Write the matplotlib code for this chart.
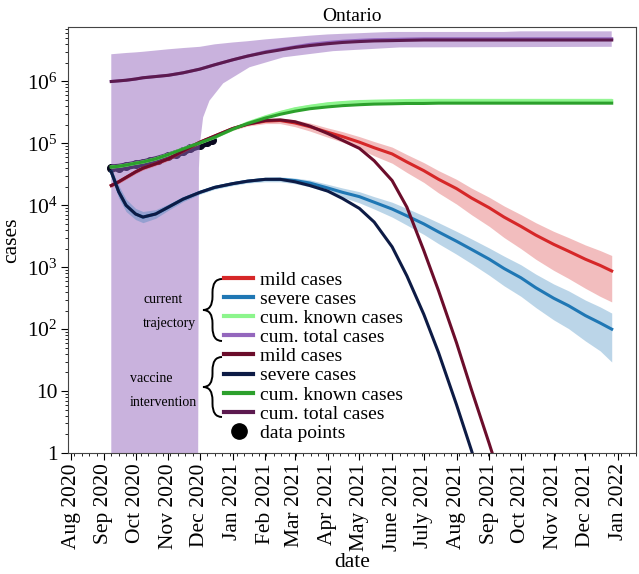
import numpy as np
import pandas as pd
import matplotlib
matplotlib.use('Agg')
import matplotlib.pyplot as plt
import matplotlib.dates as mdates
from matplotlib.path import Path
from matplotlib.patches import PathPatch
from matplotlib.lines import Line2D

plt.rcParams['font.family'] = 'Liberation Serif'
plt.rcParams['mathtext.fontset'] = 'custom'
plt.rcParams['mathtext.rm'] = 'Liberation Serif'
plt.rcParams['mathtext.it'] = 'Liberation Serif:italic'

# model dates shared by most curves
dates = pd.to_datetime([
    '2020-09-08', '2020-09-15', '2020-09-22', '2020-10-01', '2020-10-08', '2020-10-20',
    '2020-11-01', '2020-11-15', '2020-12-01', '2020-12-15', '2021-01-01', '2021-01-15',
    '2021-02-01', '2021-02-15', '2021-03-01', '2021-03-15', '2021-04-01', '2021-04-15',
    '2021-05-01', '2021-05-15', '2021-06-01', '2021-06-15', '2021-07-01', '2021-07-15',
    '2021-08-01', '2021-08-15', '2021-09-01', '2021-09-15', '2021-10-01', '2021-10-15',
    '2021-11-01', '2021-11-15', '2021-12-01', '2021-12-15', '2021-12-26'])

# all values below are log10(cases)
# current trajectory
mild_now = [4.32, 4.38, 4.45, 4.54, 4.60, 4.67, 4.75, 4.88, 5.02, 5.12, 5.24, 5.31,
            5.36, 5.37, 5.33, 5.27, 5.18, 5.11, 5.02, 4.93, 4.83, 4.70, 4.56, 4.42,
            4.27, 4.12, 3.96, 3.81, 3.66, 3.52, 3.37, 3.26, 3.13, 3.03, 2.94]
mild_now_hi = [4.35, 4.41, 4.48, 4.57, 4.63, 4.70, 4.78, 4.91, 5.05, 5.15, 5.27, 5.34,
               5.40, 5.41, 5.38, 5.33, 5.25, 5.19, 5.11, 5.03, 4.94, 4.82, 4.69, 4.56,
               4.42, 4.28, 4.13, 3.99, 3.85, 3.72, 3.58, 3.48, 3.36, 3.27, 3.19]
mild_now_lo = [4.29, 4.35, 4.42, 4.51, 4.57, 4.64, 4.72, 4.85, 4.99, 5.09, 5.21, 5.28,
               5.32, 5.32, 5.27, 5.20, 5.10, 5.02, 4.91, 4.80, 4.68, 4.53, 4.37, 4.20,
               4.02, 3.85, 3.66, 3.48, 3.30, 3.13, 2.95, 2.82, 2.66, 2.53, 2.44]

severe_now = [4.54, 4.22, 4.00, 3.86, 3.81, 3.86, 3.97, 4.10, 4.21, 4.29, 4.35, 4.39,
              4.42, 4.42, 4.40, 4.36, 4.28, 4.21, 4.14, 4.05, 3.94, 3.83, 3.70, 3.57,
              3.42, 3.29, 3.13, 2.98, 2.83, 2.67, 2.50, 2.38, 2.22, 2.10, 2.00]
severe_now_hi = [4.60, 4.32, 4.10, 3.95, 3.90, 3.93, 4.02, 4.14, 4.24, 4.32, 4.38, 4.42,
                 4.45, 4.46, 4.44, 4.41, 4.34, 4.28, 4.22, 4.14, 4.05, 3.95, 3.83, 3.72,
                 3.58, 3.46, 3.31, 3.18, 3.04, 2.89, 2.73, 2.62, 2.47, 2.36, 2.26]
severe_now_lo = [4.48, 4.12, 3.90, 3.77, 3.72, 3.79, 3.92, 4.06, 4.18, 4.26, 4.32, 4.36,
                 4.38, 4.38, 4.35, 4.30, 4.21, 4.13, 4.04, 3.94, 3.81, 3.68, 3.53, 3.38,
                 3.21, 3.06, 2.87, 2.70, 2.53, 2.35, 2.15, 2.01, 1.81, 1.65, 1.47]

known_now = [4.62, 4.63, 4.65, 4.68, 4.70, 4.75, 4.82, 4.91, 5.01, 5.10, 5.23, 5.33,
             5.43, 5.50, 5.56, 5.60, 5.64, 5.66, 5.675, 5.68, 5.685, 5.69, 5.69, 5.69,
             5.69, 5.69, 5.69, 5.69, 5.69, 5.69, 5.69, 5.69, 5.69, 5.69, 5.69]
known_now_hi = [4.64, 4.65, 4.67, 4.70, 4.72, 4.77, 4.84, 4.93, 5.03, 5.12, 5.25, 5.35,
                5.45, 5.53, 5.59, 5.63, 5.67, 5.69, 5.71, 5.715, 5.72, 5.725, 5.73, 5.73,
                5.73, 5.73, 5.73, 5.73, 5.73, 5.73, 5.73, 5.73, 5.73, 5.73, 5.73]
known_now_lo = [4.60, 4.61, 4.63, 4.66, 4.68, 4.73, 4.80, 4.89, 4.99, 5.08, 5.21, 5.31,
                5.41, 5.47, 5.53, 5.57, 5.61, 5.63, 5.64, 5.645, 5.65, 5.655, 5.655, 5.655,
                5.655, 5.655, 5.655, 5.655, 5.655, 5.655, 5.655, 5.655, 5.655, 5.655, 5.655]

total_now = [6.00, 6.01, 6.02, 6.04, 6.06, 6.08, 6.10, 6.14, 6.20, 6.27, 6.35, 6.41,
             6.48, 6.52, 6.56, 6.60, 6.63, 6.65, 6.665, 6.675, 6.68, 6.685, 6.69, 6.69,
             6.69, 6.69, 6.69, 6.69, 6.69, 6.69, 6.69, 6.69, 6.69, 6.69, 6.69]
total_now_hi = [6.44, 6.45, 6.46, 6.47, 6.48, 6.50, 6.52, 6.54, 6.56, 6.60, 6.63, 6.65,
                6.68, 6.70, 6.72, 6.74, 6.76, 6.77, 6.78, 6.79, 6.80, 6.80, 6.80, 6.80,
                6.80, 6.80, 6.80, 6.80, 6.81, 6.81, 6.81, 6.81, 6.81, 6.81, 6.81]
# lower edge of the cumulative-total band has its own dates (drops below 1 before Nov 30)
total_lo_dates = pd.to_datetime([
    '2020-09-08', '2020-11-29', '2020-11-30', '2020-12-01', '2020-12-04', '2020-12-10',
    '2020-12-23', '2021-01-17', '2021-02-18', '2021-04-06', '2021-06-08', '2021-12-26'])
total_now_lo = [-2.0, -2.0, 4.6, 5.0, 5.42, 5.69, 5.97, 6.23, 6.39, 6.49, 6.55, 6.56]

# vaccine intervention
mild_vac = [4.32, 4.38, 4.45, 4.54, 4.60, 4.67, 4.75, 4.88, 5.02, 5.12, 5.24, 5.31,
            5.37, 5.38, 5.35, 5.28, 5.16, 5.05, 4.92, 4.72, 4.40, 3.97, 3.27, 2.62,
            1.78, 1.03, 0.15, -0.60]
severe_vac = [4.54, 4.22, 4.00, 3.86, 3.81, 3.86, 3.97, 4.10, 4.21, 4.29, 4.35, 4.39,
              4.42, 4.42, 4.38, 4.32, 4.23, 4.11, 3.95, 3.73, 3.33, 2.86, 2.24, 1.62,
              0.78, 0.05, -0.90]
known_vac = [4.62, 4.63, 4.65, 4.68, 4.70, 4.75, 4.82, 4.91, 5.01, 5.10, 5.23, 5.32,
             5.41, 5.47, 5.52, 5.56, 5.59, 5.61, 5.625, 5.635, 5.64, 5.645, 5.645, 5.65,
             5.65, 5.65, 5.65, 5.65, 5.65, 5.65, 5.65, 5.65, 5.65, 5.65, 5.65]
total_vac = [6.00, 6.01, 6.02, 6.04, 6.06, 6.08, 6.10, 6.14, 6.20, 6.27, 6.35, 6.41,
             6.47, 6.51, 6.55, 6.58, 6.61, 6.63, 6.645, 6.655, 6.66, 6.665, 6.67, 6.67,
             6.67, 6.67, 6.67, 6.67, 6.67, 6.67, 6.67, 6.67, 6.67, 6.67, 6.67]

# reported cumulative cases
data_dates = pd.to_datetime([
    '2020-09-08', '2020-09-15', '2020-09-22', '2020-10-01', '2020-10-08', '2020-10-15',
    '2020-10-22', '2020-11-01', '2020-11-08', '2020-11-15', '2020-11-22', '2020-12-01',
    '2020-12-08', '2020-12-12'])
data_cases = [4.60, 4.61, 4.63, 4.66, 4.68, 4.71, 4.74, 4.79, 4.83, 4.87, 4.92, 4.97,
              5.02, 5.05]

month_ticks = pd.date_range('2020-08-01', '2022-01-01', freq='MS')
month_labels = ['Aug 2020', 'Sep 2020', 'Oct 2020', 'Nov 2020', 'Dec 2020', 'Jan 2021',
                'Feb 2021', 'Mar 2021', 'Apr 2021', 'May 2021', 'June 2021', 'July 2021',
                'Aug 2021', 'Sep 2021', 'Oct 2021', 'Nov 2021', 'Dec 2021', 'Jan 2022']

c_mild, c_severe, c_known, c_total = '#d62728', '#1f77b4', '#8cf58c', '#9467bd'
v_mild, v_severe, v_known, v_total = '#6b0d2b', '#0d1b45', '#2ca02c', '#5c1a4f'


def p(v):
    return np.power(10.0, np.array(v))


fig = plt.figure(figsize=(6.39, 5.74), dpi=100)
ax = fig.add_axes([68 / 639, 1 - 453 / 574, 568 / 639, 426 / 574])

# data points sit under the purple band
ax.plot(data_dates, p(data_cases), 'o-', color='#0a0a20', ms=5.5, lw=5.5,
        solid_capstyle='round', zorder=1)

band_x = np.concatenate([dates.values, total_lo_dates.values[::-1]])
band_y = np.concatenate([p(total_now_hi), p(total_now_lo)[::-1]])
ax.fill(band_x, band_y, color=c_total, alpha=0.5, lw=0, zorder=2)
ax.fill_between(dates, p(mild_now_lo), p(mild_now_hi), color=c_mild, alpha=0.3, lw=0, zorder=2)
ax.fill_between(dates, p(severe_now_lo), p(severe_now_hi), color=c_severe, alpha=0.3, lw=0, zorder=2)
ax.fill_between(dates, p(known_now_lo), p(known_now_hi), color=c_known, alpha=0.5, lw=0, zorder=2)

lw = 2.2
ax.plot(dates, p(mild_now), color=c_mild, lw=lw, zorder=3)
ax.plot(dates, p(severe_now), color=c_severe, lw=lw, zorder=3)
ax.plot(dates, p(known_now), color=c_known, lw=lw, zorder=3)
ax.plot(dates, p(total_now), color=c_total, lw=lw, zorder=3)
ax.plot(dates[:len(mild_vac)], p(mild_vac), color=v_mild, lw=lw, zorder=4)
ax.plot(dates[:len(severe_vac)], p(severe_vac), color=v_severe, lw=lw, zorder=4)
ax.plot(dates, p(known_vac), color=v_known, lw=lw, zorder=4)
ax.plot(dates, p(total_vac), color=v_total, lw=lw, zorder=4)

ax.set_yscale('log')
ax.set_ylim(1, 10 ** 6.88)
ax.set_xlim(pd.Timestamp('2020-07-29'), pd.Timestamp('2022-01-18'))
ax.set_yticks([1, 10, 1e2, 1e3, 1e4, 1e5, 1e6])
ax.set_yticklabels(['1', '10', r'$10^2$', r'$10^3$', r'$10^4$', r'$10^5$', r'$10^6$'])
ax.set_xticks(month_ticks)
ax.set_xticklabels(month_labels, rotation=90)
ax.xaxis.set_minor_locator(mdates.WeekdayLocator())
ax.tick_params(labelsize=15.5, direction='out', pad=2.5)
ax.tick_params(which='major', length=5)
ax.tick_params(which='minor', length=2.5)
for s in ax.spines.values():
    s.set_color('#444444')

ax.set_title('Ontario', fontsize=14, pad=4)
ax.set_xlabel('date', fontsize=15.5, labelpad=1)
ax.set_ylabel('cases', fontsize=15.5)

handles = [Line2D([], [], color=c, lw=3) for c in
           [c_mild, c_severe, c_known, c_total, v_mild, v_severe, v_known, v_total]]
handles.append(Line2D([], [], marker='o', ls='', color='black', ms=11))
labels = ['mild cases', 'severe cases', 'cum. known cases', 'cum. total cases'] * 2 + ['data points']
fig.legend(handles, labels, loc='upper left', bbox_to_anchor=(224 / 639, 1 - 271 / 574),
           frameon=False, fontsize=14, borderpad=0, borderaxespad=0, handlelength=1.5,
           handletextpad=0.35, labelspacing=0.08)


def brace(xt, xr, y0, y1):
    # left curly brace in figure pixels (y downwards)
    xm = (xt + xr) / 2
    ym = (y0 + y1) / 2
    d = (xr - xt) * 0.7
    pts = [(xr, y0), (xm, y0), (xm, y0 + d), (xm, ym - d), (xm, ym), (xt, ym),
           (xm, ym), (xm, ym + d), (xm, y1 - d), (xm, y1), (xr, y1)]
    codes = [Path.MOVETO, Path.CURVE3, Path.CURVE3, Path.LINETO, Path.CURVE3, Path.CURVE3,
             Path.CURVE3, Path.CURVE3, Path.LINETO, Path.CURVE3, Path.CURVE3]
    verts = [(x / 639, 1 - y / 574) for x, y in pts]
    fig.patches.append(PathPatch(Path(verts, codes), transform=fig.transFigure,
                                 fill=False, lw=1.4, color='black'))


brace(203, 222, 279, 341)
brace(203, 222, 357, 417)
for txt, x, y in [('current', 143, 299), ('trajectory', 143, 323),
                  ('vaccine', 130, 378), ('intervention', 130, 402)]:
    fig.text(x / 639, 1 - y / 574, txt, fontsize=10, va='center', ha='left')

fig.savefig('out.png', dpi=100)
